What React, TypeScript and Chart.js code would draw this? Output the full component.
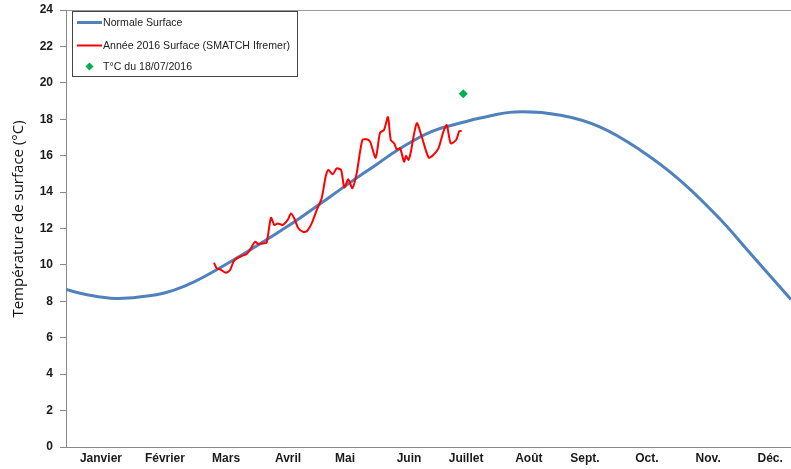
import { useEffect, useRef } from "react";
import { Chart, registerables } from "chart.js";

Chart.register(...registerables);

// Day of year (0 = 1 January) and temperature (°C)
const normalDays = [0, 10, 25, 40, 50, 60, 70, 87, 110, 118, 128, 143, 156, 167, 184, 201, 208, 226, 249, 269, 289, 309, 329, 343, 365];
const normalTemps = [8.65, 8.38, 8.16, 8.28, 8.47, 8.85, 9.38, 10.45, 12.01, 12.59, 13.36, 14.52, 15.49, 16.31, 17.32, 17.86, 18.05, 18.4, 18.22, 17.57, 16.31, 14.66, 12.55, 10.82, 8.1];

const obsDays = [74.5, 75.9, 77.6, 80.4, 82.6, 84.3, 86, 88.5, 91, 92.6, 95.2, 96.8, 99.3, 101, 103.2, 104.9, 106.6, 109.1, 111.6, 113.3, 114.9, 117, 119.5, 121.5, 123.7, 126.2, 128.7, 130.8, 132.1, 134.3, 136.3, 138.5, 140.1, 142.1, 144.2, 146.4, 149.2, 151.4, 153.1, 155.9, 158.1, 160.1, 162.1, 163.5, 165.2, 166.5, 168.2, 170.2, 171.2, 172.4, 173.4, 176.6, 179.1, 182.6, 184.9, 187.5, 190, 191.7, 193.7, 196.4, 198, 199.2];
const obsTemps = [10.12, 9.81, 9.76, 9.57, 9.72, 10.18, 10.36, 10.49, 10.6, 10.82, 11.27, 11.15, 11.18, 11.22, 12.59, 12.19, 12.28, 12.19, 12.47, 12.83, 12.56, 12.01, 11.81, 11.88, 12.28, 13.01, 13.66, 14.88, 15.21, 14.98, 15.3, 15.21, 14.26, 14.7, 14.21, 15.07, 16.86, 16.9, 16.77, 15.89, 17.26, 17.41, 18.12, 16.86, 16.68, 16.35, 16.4, 15.67, 16.0, 15.76, 16.1, 17.78, 17.04, 15.89, 16.04, 16.4, 17.32, 17.68, 16.68, 16.86, 17.35, 17.35];

const spotDays = [200];
const spotTemps = [19.4];

const monthLabels = ["Janvier", "Février", "Mars", "Avril", "Mai", "Juin", "Juillet", "Août", "Sept.", "Oct.", "Nov.", "Déc."];
const monthTickDays = [17.6, 49.8, 80.6, 111.8, 140.5, 172.7, 201.4, 233, 261.3, 292.4, 323.3, 354.5];

const yTickValues = [0, 2, 4, 6, 8, 10, 12, 14, 16, 18, 20, 22, 24];

const yTitle = "Température de surface (°C)";
const legendLabels = ["Normale Surface", "Année 2016 Surface (SMATCH Ifremer)", "T°C du 18/07/2016"];

const BLUE = "#4F81BD";
const RED = "#FF0000";
const GREEN = "#00B050";
const AXIS = "#888888";

const decorPlugin = {
  id: "decor",
  afterDraw(chart: any) {
    const ctx = chart.ctx as CanvasRenderingContext2D;
    ctx.save();
    // y-axis title
    ctx.save();
    ctx.translate(19, 219);
    ctx.rotate(-Math.PI / 2);
    ctx.font = "15px 'Open Sans', 'Liberation Sans', sans-serif";
    ctx.fillStyle = "#111111";
    ctx.textAlign = "center";
    ctx.textBaseline = "middle";
    ctx.fillText(yTitle, 0, 0);
    ctx.restore();
    // legend box
    ctx.strokeStyle = "#444444";
    ctx.lineWidth = 1;
    ctx.fillStyle = "#ffffff";
    ctx.fillRect(72.5, 11.5, 225, 65);
    ctx.strokeRect(72.5, 11.5, 225, 65);
    const rows = [22.5, 45.5, 66.5];
    ctx.font = "10.6px 'Liberation Sans', Arial, sans-serif";
    ctx.textBaseline = "middle";
    ctx.textAlign = "left";
    ctx.strokeStyle = BLUE;
    ctx.lineWidth = 3;
    ctx.beginPath();
    ctx.moveTo(77, rows[0]);
    ctx.lineTo(102, rows[0]);
    ctx.stroke();
    ctx.strokeStyle = RED;
    ctx.lineWidth = 2;
    ctx.beginPath();
    ctx.moveTo(77, rows[1]);
    ctx.lineTo(102, rows[1]);
    ctx.stroke();
    ctx.fillStyle = GREEN;
    ctx.beginPath();
    ctx.moveTo(89.5, rows[2] - 4);
    ctx.lineTo(93.5, rows[2]);
    ctx.lineTo(89.5, rows[2] + 4);
    ctx.lineTo(85.5, rows[2]);
    ctx.closePath();
    ctx.fill();
    ctx.fillStyle = "#222222";
    legendLabels.forEach((t, i) => ctx.fillText(t, 103, rows[i] + 1));
    ctx.restore();
  },
};

export default function App() {
  const ref = useRef<HTMLCanvasElement | null>(null);

  useEffect(() => {
    document.body.style.margin = "0";
    const canvas = ref.current;
    if (!canvas) return;
    const chart = new Chart(canvas, {
      type: "line",
      data: {
        datasets: [
          {
            label: legendLabels[0],
            data: normalDays.map((d, i) => ({ x: d, y: normalTemps[i] })),
            borderColor: BLUE,
            borderWidth: 3,
            pointRadius: 0,
            tension: 0.4,
            order: 3,
          },
          {
            label: legendLabels[1],
            data: obsDays.map((d, i) => ({ x: d, y: obsTemps[i] })),
            borderColor: RED,
            borderWidth: 2,
            pointRadius: 0,
            tension: 0.25,
            order: 2,
          },
          {
            label: legendLabels[2],
            data: spotDays.map((d, i) => ({ x: d, y: spotTemps[i] })),
            showLine: false,
            pointStyle: "rectRot",
            pointRadius: 4.5,
            backgroundColor: GREEN,
            borderColor: GREEN,
            borderWidth: 0,
            order: 1,
          },
        ],
      },
      options: {
        responsive: false,
        animation: false,
        layout: { autoPadding: false, padding: { top: 10, right: 0, left: 0, bottom: 0 } },
        plugins: {
          legend: { display: false },
          tooltip: { enabled: false },
        },
        scales: {
          x: {
            type: "linear",
            min: 0,
            max: 365,
            afterBuildTicks: (scale: any) => {
              scale.ticks = monthTickDays.map((v) => ({ value: v }));
            },
            afterFit: (scale: any) => {
              scale.height = 22;
              scale.paddingLeft = 0;
              scale.paddingRight = 0;
            },
            ticks: {
              autoSkip: false,
              maxRotation: 0,
              padding: 4,
              color: "#1a1a1a",
              font: { family: "'Liberation Sans Narrow', 'Liberation Sans', Arial, sans-serif", size: 12, weight: "bold" },
              callback: (_v: any, i: number) => monthLabels[i],
            },
            grid: { display: false, drawTicks: false },
            border: { display: true, color: AXIS, width: 1 },
          },
          y: {
            min: 0,
            max: 24,
            afterBuildTicks: (scale: any) => {
              scale.ticks = yTickValues.map((v) => ({ value: v }));
            },
            afterFit: (scale: any) => {
              scale.width = 66;
              scale.paddingTop = 0;
              scale.paddingBottom = 0;
            },
            ticks: {
              padding: 7,
              color: "#1a1a1a",
              font: { family: "'Liberation Sans', Arial, sans-serif", size: 12, weight: "bold" },
            },
            grid: {
              color: (c: any) => (c.tick && c.tick.value === 24 ? "#999999" : "rgba(0,0,0,0)"),
              tickColor: AXIS,
              tickLength: 6,
              lineWidth: 1,
            },
            border: { display: true, color: AXIS, width: 1 },
          },
        },
      },
      plugins: [decorPlugin],
    });
    return () => chart.destroy();
  }, []);

  return (
    <div style={{ width: 791, height: 469, background: "#ffffff" }}>
      <canvas ref={ref} width={791} height={469} style={{ display: "block" }} />
    </div>
  );
}
